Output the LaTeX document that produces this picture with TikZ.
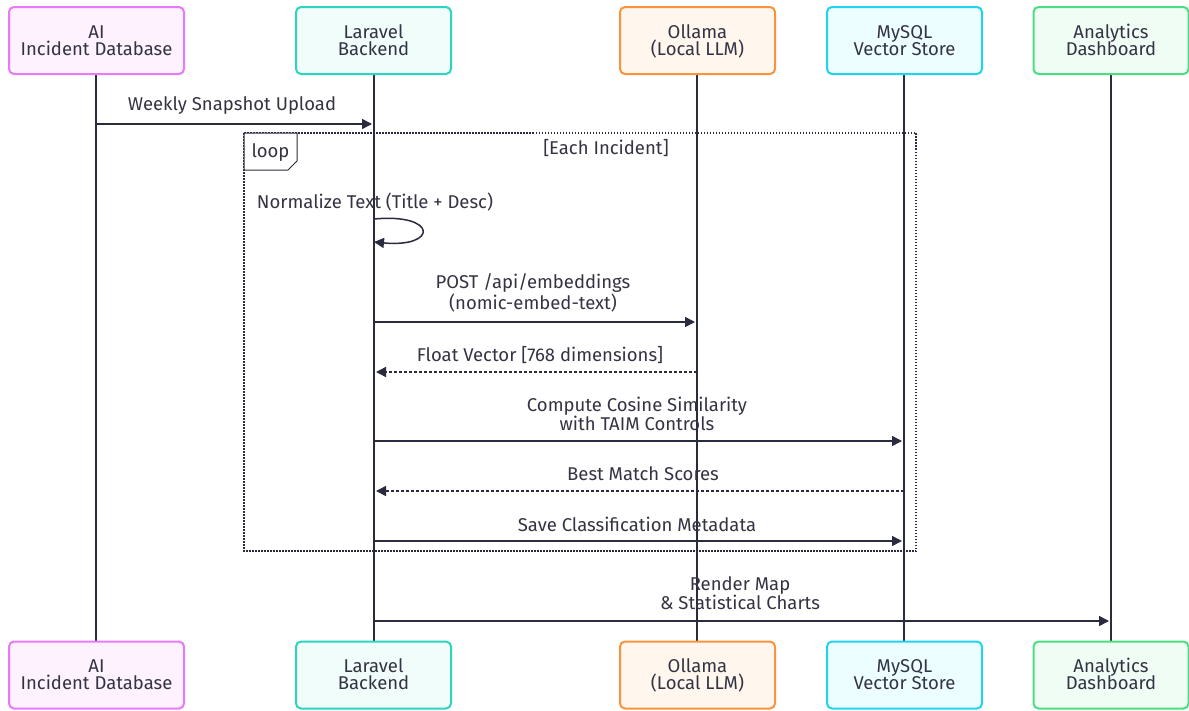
\documentclass[tikz,border=0pt]{standalone}
\usepackage{fontspec}
\setmainfont{Fira Sans}
\usetikzlibrary{arrows.meta,calc}
\definecolor{ink}{HTML}{2B2B40}
\definecolor{txt}{HTML}{333344}
\definecolor{aiB}{HTML}{E879F9}\definecolor{aiF}{HTML}{FDF2FD}
\definecolor{laB}{HTML}{2DD4BF}\definecolor{laF}{HTML}{F0FDFA}
\definecolor{olB}{HTML}{FB923C}\definecolor{olF}{HTML}{FFF7ED}
\definecolor{myB}{HTML}{22D3EE}\definecolor{myF}{HTML}{ECFEFF}
\definecolor{anB}{HTML}{4ADE80}\definecolor{anF}{HTML}{F0FDF4}
\newcommand{\twolines}[2]{\vphantom{(}#1\\\vphantom{(}#2}
\newcommand{\actorfont}{\fontsize{18.5}{17}\selectfont\lineskiplimit=-20pt\relax}
\tikzset{
  x=1pt,y=-1pt,
  actor/.style={draw=#1B,fill=#1F,line width=2pt,rounded corners=5pt,minimum width=155pt,minimum height=67pt,align=center,text=txt,font=\actorfont,inner sep=0pt},
  life/.style={draw=ink,line width=1.5pt},
  msg/.style={draw=ink,line width=1.5pt,-{Triangle[length=10pt,width=10pt]}},
  reply/.style={msg,dash pattern=on 3pt off 2pt},
  lbl/.style={text=txt,font=\fontsize{18.5}{19}\selectfont,align=center,inner sep=0pt},
}
\begin{document}
\begin{tikzpicture}
\useasboundingbox (0,0) rectangle (1189,710);
% lifelines first
\foreach \n/\x in {ai/96,la/374,ol/697,my/904,an/1111}{
  \coordinate (\n T) at (\x,74);
  \coordinate (\n B) at (\x,641);
  \draw[life] (\n T) -- (\n B);
}
% loop frame
\draw[draw=ink,line width=1.5pt,dash pattern=on 1.5pt off 1.5pt] (244,133) rectangle (916,551);
\fill[white] (244,133) -- (297,133) -- (297,161) -- (288,170) -- (244,170) -- cycle;
\draw[ink,line width=1pt] (244,133) -- (297,133) -- (297,161) -- (288,170) -- (244,170) -- cycle;
\node[lbl] (looplbl) at (270.5,153) {loop};
\node[lbl] (cond) at (606,148) {[Each Incident]};
% actors
\node[actor=ai,minimum width=175pt] (aiTop) at (96.5,40.5) {\twolines{AI}{Incident Database}};
\node[actor=la] (laTop) at (373.5,40.5) {\twolines{Laravel}{Backend}};
\node[actor=ol] (olTop) at (697.5,40.5) {\twolines{Ollama}{(Local LLM)}};
\node[actor=my] (myTop) at (904.5,40.5) {\twolines{MySQL}{Vector Store}};
\node[actor=an] (anTop) at (1111,40.5) {\twolines{Analytics}{Dashboard}};
\node[actor=ai,minimum width=175pt] (aiBot) at (96.5,675) {\twolines{AI}{Incident Database}};
\node[actor=la] (laBot) at (373.5,675) {\twolines{Laravel}{Backend}};
\node[actor=ol] (olBot) at (697.5,675) {\twolines{Ollama}{(Local LLM)}};
\node[actor=my] (myBot) at (904.5,675) {\twolines{MySQL}{Vector Store}};
\node[actor=an] (anBot) at (1111,675) {\twolines{Analytics}{Dashboard}};
% messages
\coordinate (m1a) at (96,124); \coordinate (m1b) at (372,124);
\draw[msg] (m1a) -- (m1b);
\node[lbl] (t1) at (232,106) {Weekly Snapshot Upload};
\node[lbl] (t2) at (375,202) {Normalize Text (Title + Desc)};
\coordinate (s1) at (374,219); \coordinate (s2) at (374,242);
\draw[msg] (s1) .. controls (438,213) and (438,248) .. (s2);
\coordinate (m3a) at (374,322); \coordinate (m3b) at (695,322);
\draw[msg] (m3a) -- (m3b);
\node[lbl] (t3) at (533,293) {POST /api/embeddings\\(nomic-embed-text)};
\coordinate (m4a) at (697,372); \coordinate (m4b) at (376,372);
\draw[reply] (m4a) -- (m4b);
\node[lbl] (t4) at (540,355) {Float Vector [768 dimensions]};
\coordinate (m5a) at (374,441); \coordinate (m5b) at (902,441);
\draw[msg] (m5a) -- (m5b);
\node[lbl] (t5) at (637,414) {Compute Cosine Similarity\\with TAIM Controls};
\coordinate (m6a) at (904,491); \coordinate (m6b) at (376,491);
\draw[reply] (m6a) -- (m6b);
\node[lbl] (t6) at (643,474) {Best Match Scores};
\coordinate (m7a) at (374,541); \coordinate (m7b) at (902,541);
\draw[msg] (m7a) -- (m7b);
\node[lbl] (t7) at (637,524) {Save Classification Metadata};
\coordinate (m8a) at (374,621); \coordinate (m8b) at (1109,621);
\draw[msg] (m8a) -- (m8b);
\node[lbl] (t8) at (740,593) {Render Map\\\& Statistical Charts};
\end{tikzpicture}
\end{document}
